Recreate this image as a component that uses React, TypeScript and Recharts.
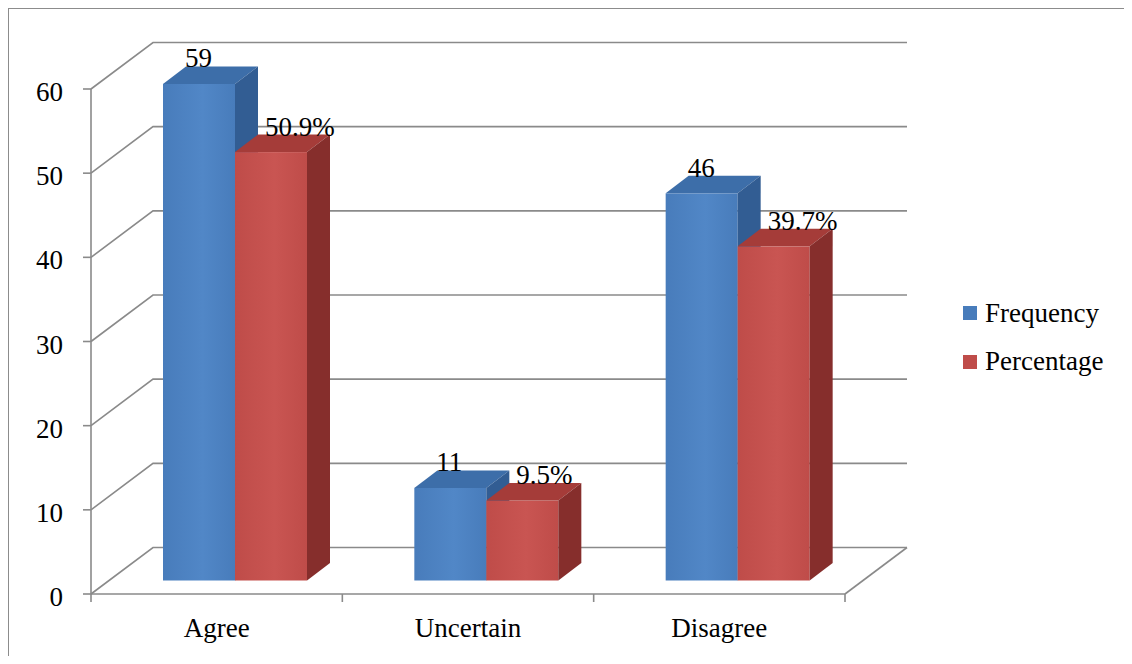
import React from "react";
import {
  BarChart,
  Bar,
  XAxis,
  YAxis,
  CartesianGrid,
  Legend,
  LabelList,
} from "recharts";

const categories = ["Agree", "Uncertain", "Disagree"];
const frequency = [59, 11, 46];
const percentage = [50.9, 9.5, 39.7];
const yTicks = [0, 10, 20, 30, 40, 50, 60];

const data = categories.map((name, i) => ({
  name,
  frequency: frequency[i],
  percentage: percentage[i],
}));

const FONT = "'Liberation Serif', 'Times New Roman', Times, serif";
const FONT_SIZE = 27;
const GRID = "#8a8a8a";
const textStyle = { fontFamily: FONT, fontSize: FONT_SIZE };

const W = 1123;
const H = 647;
const MARGIN = { top: 80, right: 287, bottom: 22, left: 22 };
const Y_AXIS_W = 60;
const X_AXIS_H = 40;
const PLOT_BOTTOM = H - MARGIN.bottom - X_AXIS_H;

// oblique projection: back wall, bar placement inside the floor, bar depth
const WALL = { dx: 62, dy: -46.5 };
const SHIFT = { dx: 18, dy: -13.5 };
const DEPTH = { dx: 23, dy: -17.5 };

type Palette = { front: string; light: string; top: string; side: string };

const BLUE: Palette = { front: "#487cbb", light: "#5187c7", top: "#3d6ea9", side: "#325d93" };
const RED: Palette = { front: "#bf4c49", light: "#c95552", top: "#a53c39", side: "#862e2c" };

function makeBarShape(pal: Palette, id: string) {
  return (props: any) => {
    const { x, y, width, height, index } = props;
    if (width == null || height == null) return <g />;
    const fx = x + SHIFT.dx;
    const fy = y + SHIFT.dy;
    const fb = fy + height;
    const gid = `grad-${id}-${index}`;
    return (
      <g>
        <defs>
          <linearGradient id={gid} x1="0" y1="0" x2="1" y2="0">
            <stop offset="0%" stopColor={pal.front} />
            <stop offset="55%" stopColor={pal.light} />
            <stop offset="100%" stopColor={pal.front} />
          </linearGradient>
        </defs>
        <rect x={fx} y={fy} width={width} height={height} fill={`url(#${gid})`} />
        <polygon
          points={`${fx},${fy} ${fx + DEPTH.dx},${fy + DEPTH.dy} ${fx + width + DEPTH.dx},${fy + DEPTH.dy} ${fx + width},${fy}`}
          fill={pal.top}
        />
        <polygon
          points={`${fx + width},${fy} ${fx + width + DEPTH.dx},${fy + DEPTH.dy} ${fx + width + DEPTH.dx},${fb + DEPTH.dy} ${fx + width},${fb}`}
          fill={pal.side}
        />
      </g>
    );
  };
}

function makeLabel(xOffset: number, suffix: string) {
  return (props: any) => {
    const { x, y, value } = props;
    return (
      <text
        x={x + SHIFT.dx + xOffset}
        y={y + SHIFT.dy + DEPTH.dy + 1}
        textAnchor="start"
        style={textStyle}
        fill="#000"
      >
        {`${value}${suffix}`}
      </text>
    );
  };
}

// back wall line, left-wall diagonal and the floor's right edge
function WallLine(props: any) {
  const { x1, y1, x2 } = props;
  const bx1 = x1 + WALL.dx;
  const bx2 = x2 + WALL.dx;
  const by = y1 + WALL.dy;
  const isFloor = Math.abs(y1 - PLOT_BOTTOM) < 1;
  return (
    <g key={props.key}>
      <polyline
        points={`${x1},${y1} ${bx1},${by} ${bx2},${by}`}
        fill="none"
        stroke={GRID}
        strokeWidth={1.6}
      />
      {isFloor && (
        <line x1={x2} y1={y1} x2={bx2} y2={by} stroke={GRID} strokeWidth={1.6} />
      )}
    </g>
  );
}

function CategoryTick(props: any) {
  const { x, payload, index, visibleTicksCount } = props;
  const half = payload.offset ?? (W - MARGIN.left - Y_AXIS_W - MARGIN.right) / categories.length / 2;
  const last = index === visibleTicksCount - 1;
  return (
    <g>
      <line x1={x - half} y1={PLOT_BOTTOM} x2={x - half} y2={PLOT_BOTTOM + 8} stroke={GRID} strokeWidth={1.6} />
      {last && (
        <line x1={x + half} y1={PLOT_BOTTOM} x2={x + half} y2={PLOT_BOTTOM + 8} stroke={GRID} strokeWidth={1.6} />
      )}
      <text x={x} y={PLOT_BOTTOM + 43} textAnchor="middle" style={textStyle} fill="#000">
        {payload.value}
      </text>
    </g>
  );
}

function ValueTick(props: any) {
  const { x, y, payload } = props;
  return (
    <text x={x} y={y + 12} textAnchor="end" style={textStyle} fill="#000">
      {payload.value}
    </text>
  );
}

function LegendBox() {
  const items = [
    { label: "Frequency", color: BLUE.front },
    { label: "Percentage", color: RED.front },
  ];
  return (
    <div style={{ ...textStyle, color: "#000" }}>
      {items.map((it) => (
        <div key={it.label} style={{ display: "flex", alignItems: "center", height: 48.5 }}>
          <span style={{ width: 14, height: 14, background: it.color, marginRight: 8, display: "inline-block" }} />
          <span>{it.label}</span>
        </div>
      ))}
    </div>
  );
}

export default function App() {
  return (
    <div
      style={{
        width: W,
        height: H,
        borderTop: "1px solid #8c8c8c",
        borderLeft: "1px solid #8c8c8c",
        background: "#fff",
        fontFamily: FONT,
      }}
    >
      <BarChart width={W} height={H} data={data} margin={MARGIN} barGap={0} barSize={72} style={{ fontFamily: FONT }}>
        <CartesianGrid vertical={false} horizontal={WallLine} />
        <XAxis
          dataKey="name"
          height={X_AXIS_H}
          axisLine={{ stroke: GRID, strokeWidth: 1.6 }}
          tickLine={false}
          tickSize={0}
          tick={<CategoryTick />}
          interval={0}
        />
        <YAxis
          width={Y_AXIS_W}
          domain={[0, 60]}
          ticks={yTicks}
          interval={0}
          axisLine={{ stroke: GRID, strokeWidth: 1.6 }}
          tickLine={{ stroke: GRID, strokeWidth: 1.6 }}
          tickSize={8}
          tickMargin={20}
          tick={<ValueTick />}
        />
        <Legend
          layout="vertical"
          align="center"
          verticalAlign="middle"
          content={<LegendBox />}
          wrapperStyle={{ left: 954, top: 280, width: 170 }}
        />
        <Bar
          dataKey="frequency"
          name="Frequency"
          fill={BLUE.front}
          shape={makeBarShape(BLUE, "f")}
          isAnimationActive={false}
        >
          <LabelList dataKey="frequency" content={makeLabel(22, "")} />
        </Bar>
        <Bar
          dataKey="percentage"
          name="Percentage"
          fill={RED.front}
          shape={makeBarShape(RED, "p")}
          isAnimationActive={false}
        >
          <LabelList dataKey="percentage" content={makeLabel(30, "%")} />
        </Bar>
      </BarChart>
    </div>
  );
}
